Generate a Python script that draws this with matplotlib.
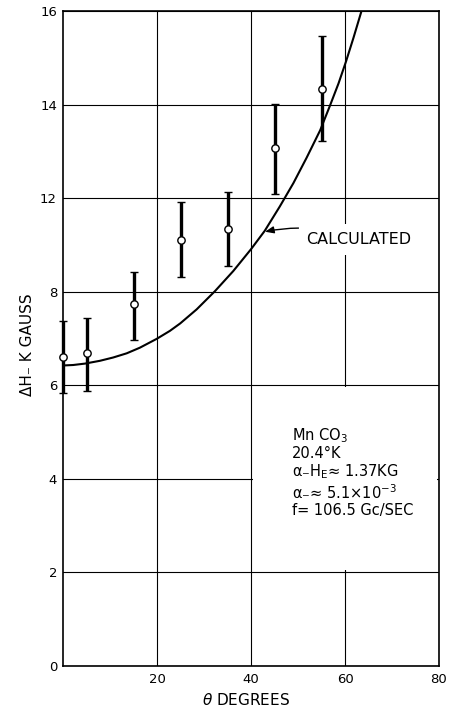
import matplotlib
matplotlib.use("Agg")
import matplotlib.pyplot as plt
from matplotlib.patches import Rectangle
import numpy as np

# ---- data (in axis units) ----
theta_pts = [0, 5, 15, 25, 35, 45, 55]
dh_pts = [6.61, 6.68, 7.73, 9.11, 9.34, 11.06, 12.33]
dh_low = [5.84, 5.87, 6.96, 8.32, 8.54, 10.08, 11.21]
dh_high = [7.37, 7.43, 8.42, 9.92, 10.13, 12.01, 13.46]

theta_calc = [0, 2.1, 4.6, 7.8, 10.6, 13.5, 16.3, 19.9, 22.7, 24.9, 28.4, 32.3,
              36.2, 40, 42.9, 46.1, 49, 51.8, 54.7, 56.8, 58.6, 60.2, 61.8, 63.5]
dh_calc = [6.42, 6.43, 6.46, 6.52, 6.59, 6.68, 6.80, 6.99, 7.16, 7.32, 7.62, 8.01,
           8.44, 8.91, 9.30, 9.82, 10.32, 10.86, 11.45, 11.98, 12.45, 12.92, 13.43, 14.0]

x_ticks = [20, 40, 60, 80]
x_ticklabels = ["20", "40", "60", "80"]
y_ticks = [0, 2, 4, 6, 8, 10, 12, 14]
y_ticklabels = ["0", "2", "4", "6", "8", "12", "14", "16"]

info_lines = ["Mn CO$_3$", "20.4°K", "α₋H$_\\mathrm{E}$≈ 1.37KG",
              "α₋≈ 5.1×10$^{-3}$", "f= 106.5 Gc/SEC"]

plt.rcParams['font.family'] = ['DejaVu Sans']
plt.rcParams['mathtext.fontset'] = 'dejavusans'

fig = plt.figure(figsize=(4.49, 7.10), dpi=100)
ax = fig.add_axes([0.141, 0.0624, 0.8367, 0.9221])
ax.set_xlim(0, 80)
ax.set_ylim(0, 14)
ax.set_xticks(x_ticks)
ax.set_xticklabels(x_ticklabels)
ax.set_yticks(y_ticks)
ax.set_yticklabels(y_ticklabels)
ax.tick_params(length=0, labelsize=9.5)
ax.tick_params(axis='y', pad=4.5)
ax.tick_params(axis='x', pad=5.5)
ax.set_axisbelow(True)
ax.grid(True, color='black', linewidth=0.8)
for s in ax.spines.values():
    s.set_linewidth(1.2)

# white area behind the parameter block (hides grid lines there)
ax.add_patch(Rectangle((40.4, 2.04), 79.6 - 40.4, 5.96 - 2.04,
                       facecolor='white', edgecolor='none', zorder=1))

ax.plot(theta_calc, dh_calc, color='black', linewidth=1.5, zorder=3)

pts = np.array(dh_pts)
yerr = [pts - np.array(dh_low), np.array(dh_high) - pts]
ax.errorbar(theta_pts, dh_pts, yerr=yerr, fmt='o', color='black',
            ecolor='black', elinewidth=2.4, capsize=3, capthick=1.3,
            markersize=5.3, markerfacecolor='white', markeredgecolor='black',
            markeredgewidth=1.0, zorder=4, clip_on=False)

ax.annotate("CALCULATED", xy=(42.95, 9.28), xytext=(51.8, 9.11),
            fontsize=11.5, ha='left', va='center',
            bbox=dict(boxstyle='square,pad=0.5', facecolor='white', edgecolor='none'),
            arrowprops=dict(arrowstyle='-|>,head_length=0.45,head_width=0.18',
                            color='black', linewidth=1.0,
                            connectionstyle='arc3,rad=0.15',
                            shrinkA=0, shrinkB=0),
            zorder=5)

ax.text(48.6, 5.12, "\n".join(info_lines), fontsize=10.5, ha='left', va='top',
        linespacing=1.1, zorder=5)

ax.set_xlabel("$\\theta$ DEGREES", fontsize=11)
ax.set_ylabel("ΔH₋ K GAUSS", fontsize=11)
ax.xaxis.set_label_coords(0.486, -0.040)
ax.yaxis.set_label_coords(-0.075, 0.49)

fig.savefig("out.png", dpi=100)
